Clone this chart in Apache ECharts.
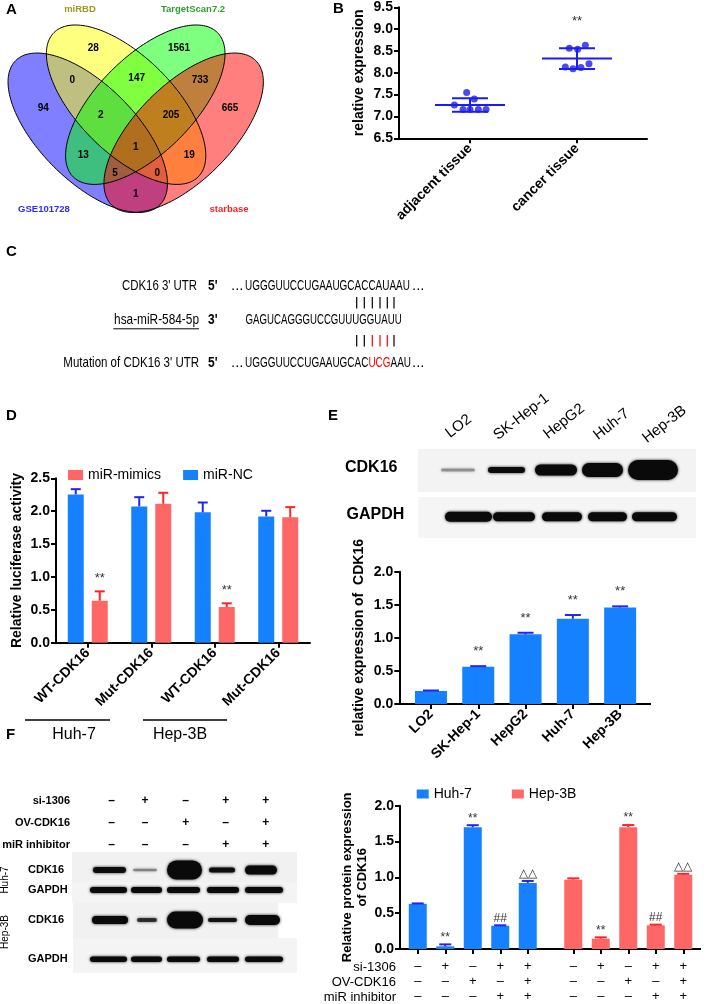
<!DOCTYPE html>
<html><head><meta charset="utf-8">
<script src="https://cdn.jsdelivr.net/npm/echarts@6/dist/echarts.min.js"></script>
<style>html,body{margin:0;padding:0;background:#fff}#c{width:709px;height:1004px}</style>
</head><body><div id="c"></div>
<script>
// ================= DATA =================
// A: Venn
const vennSets = ['GSE101728', 'miRBD', 'TargetScan7.2', 'starbase'];
const vennCounts = [94, 28, 1561, 665, 0, 147, 733, 2, 205, 13, 1, 19, 5, 0, 1];
// B: scatter (relative expression)
const bCats = ['adjacent tissue', 'cancer tissue'];
const bAdjacent = [7.26, 7.16, 7.55, 7.16, 7.40, 7.16, 7.16];
const bCancer = [8.13, 8.56, 8.09, 8.54, 8.12, 8.63, 8.21];
const bSig = ['', '**'];
// C: sequences
const cLabels = ["CDK16 3' UTR", 'hsa-miR-584-5p', "Mutation of CDK16 3' UTR"];
const cEnds = ["5'", "3'", "5'"];
const cUTR = 'UGGGUUCCUGAAUGCACCAUAAU';
const cMiR = 'GAGUCAGGGUCCGUUUGGUAUU';
const cMutPre = 'UGGGUUCCUGAAUGCAC', cMut = 'UCG', cMutPost = 'AAU';
// D: luciferase
const dCats = ['WT-CDK16', 'Mut-CDK16', 'WT-CDK16', 'Mut-CDK16'];
const dNC = [2.255, 2.073, 1.982, 1.921];
const dNCErr = [0.08, 0.14, 0.15, 0.085];
const dMimics = [0.638, 2.113, 0.543, 1.906];
const dMimicsErr = [0.143, 0.167, 0.056, 0.156];
const dMimicsSig = ['**', '', '**', ''];
const dGroups = ['Huh-7', 'Hep-3B'];
// E: cell lines
const eCats = ['LO2', 'SK-Hep-1', 'HepG2', 'Huh-7', 'Hep-3B'];
const eVals = [0.196, 0.564, 1.053, 1.289, 1.46];
const eErr = [0.008, 0.008, 0.024, 0.056, 0.016];
const eSig = ['', '**', '**', '**', '**'];
const eBandCDK16 = [3, 6, 11, 14, 20];      // band thickness (intensity proxy)
const eBandCDK16Op = [0.3, 0.95, 1, 1, 1];
const eBandGAPDH = [10, 9, 9, 9, 9];
// F: rescue
const fSi = ['–', '+', '–', '+', '+'];
const fOv = ['–', '–', '+', '–', '+'];
const fInh = ['–', '–', '–', '+', '+'];
const fRows = ['si-1306', 'OV-CDK16', 'miR inhibitor'];
const fHuh = [0.63, 0.0375, 1.70, 0.325, 0.922];
const fHuhErr = [0.006, 0.027, 0.028, 0.006, 0.028];
const fHep = [0.968, 0.144, 1.70, 0.33, 1.035];
const fHepErr = [0.018, 0.019, 0.03, 0.01, 0.014];
const fSig = ['', '**', '**', '##', '△△'];
const fBandHuhCDK16 = [6, 2.5, 19, 5, 9];
const fBandHuhCDK16Op = [0.95, 0.35, 1, 0.95, 1];
const fBandHepCDK16 = [8, 4, 17, 4, 10];
const fBandHepCDK16Op = [1, 0.7, 1, 0.9, 1];
const fBandGAPDH = [6, 6, 6, 6, 6];

// ================= LAYOUT / STYLE =================
const FONT = "'Liberation Sans', Arial, Helvetica, sans-serif";
const BLUE = '#1681ff', RED = '#ff6666', EBLUE = '#2424f0', ERED = '#ff2424';

const chart = echarts.init(document.getElementById('c'), null, {renderer: 'canvas', width: 709, height: 1004});

function mean(a) { return a.reduce((s, v) => s + v, 0) / a.length; }
function sd(a) { const m = mean(a); return Math.sqrt(a.reduce((s, v) => s + (v - m) * (v - m), 0) / (a.length - 1)); }

const axisLineS = {show: true, lineStyle: {color: '#000', width: 2}};
const tickS = {show: true, length: 5, lineStyle: {color: '#000', width: 2}};
const lblBold = {color: '#000', fontWeight: 'bold', fontSize: 14, fontFamily: FONT};

function yAx(gi, min, max, name, nameGap, extra) {
  return Object.assign({
    type: 'value', gridIndex: gi, min: min, max: max, interval: 0.5,
    axisLine: axisLineS, axisTick: tickS,
    axisLabel: Object.assign({margin: 6, formatter: v => v.toFixed(1)}, lblBold),
    splitLine: {show: false},
    name: name, nameLocation: 'middle', nameGap: nameGap,
    nameTextStyle: {color: '#000', fontWeight: 'bold', fontSize: 14, fontFamily: FONT, lineHeight: 16}
  }, extra || {});
}
function xCat(gi, data, extra) {
  return Object.assign({
    type: 'category', gridIndex: gi, data: data,
    axisLine: axisLineS, axisTick: Object.assign({alignWithLabel: true}, tickS),
    axisLabel: Object.assign({rotate: 45, margin: 8, interval: 0}, lblBold),
    splitLine: {show: false}
  }, extra || {});
}

function errBars(ax, vals, errs, marks, dx, color, capW, gap, fsz) {
  return {
    type: 'custom', xAxisIndex: ax, yAxisIndex: ax, z: 10, silent: true,
    data: vals.map((v, i) => [i, v, errs[i]]),
    renderItem(params, api) {
      const i = params.dataIndex, v = api.value(1), e = api.value(2);
      const top = api.coord([api.value(0), v]);
      const up = api.coord([api.value(0), v + e]);
      const x = top[0] + dx;
      const ch = [
        {type: 'line', shape: {x1: x, y1: top[1], x2: x, y2: up[1]}, style: {stroke: color, lineWidth: 2}},
        {type: 'line', shape: {x1: x - capW / 2, y1: up[1], x2: x + capW / 2, y2: up[1]}, style: {stroke: color, lineWidth: 2}}
      ];
      const m = marks && marks[i];
      if (m) ch.push({type: 'text', style: {text: m, x: x, y: up[1] - gap, align: 'center', verticalAlign: 'bottom',
        fill: '#333', font: fsz + 'px ' + FONT}});
      return {type: 'group', children: ch};
    }
  };
}

// ---------- graphics ----------
const G = [];
function txt(t, x, y, font, opt) {
  G.push(Object.assign({type: 'text', x: x, y: y, silent: true,
    style: Object.assign({text: t, font: font, fill: '#000', align: 'left', verticalAlign: 'middle'}, (opt && opt.style) || {})},
    (opt && opt.el) || {}));
}
function line(x1, y1, x2, y2, w, c) {
  G.push({type: 'line', silent: true, shape: {x1, y1, x2, y2}, style: {stroke: c || '#000', lineWidth: w || 1}});
}
// panel letters
[['A', 6, 10], ['B', 333, 9], ['C', 6, 252], ['D', 6, 415.5], ['E', 328, 415.5], ['F', 6, 735]]
  .forEach(l => txt(l[0], l[1], l[2], 'bold 15px ' + FONT));

// ----- A: Venn -----
function ellipsePts(cx, cy, a, b, deg) {
  const t = deg * Math.PI / 180, pts = [];
  for (let k = 0; k < 180; k++) {
    const s = 2 * Math.PI * k / 180;
    pts.push([cx + a * Math.cos(s) * Math.cos(t) - b * Math.sin(s) * Math.sin(t),
              cy + a * Math.cos(s) * Math.sin(t) + b * Math.sin(s) * Math.cos(t)]);
  }
  return pts;
}
const vennGeom = [[87.75, 132.75, 45], [126.1, 104.7, 45], [145.3, 104.7, -45], [183.65, 132.75, -45]];
const vennFill = ['rgba(0,0,255,0.5)', 'rgba(255,255,0,0.5)', 'rgba(0,255,0,0.5)', 'rgba(255,0,0,0.5)'];
vennGeom.forEach((g, i) => G.push({type: 'polygon', silent: true, shape: {points: ellipsePts(g[0], g[1], 102, 48, g[2])}, style: {fill: vennFill[i]}}));
vennGeom.forEach((g, i) => G.push({type: 'polygon', silent: true, shape: {points: ellipsePts(g[0], g[1], 102, 48, g[2])}, style: {fill: 'none', stroke: '#000', lineWidth: 1}}));
const vennLabelPos = [[43.3, 108.3], [93.3, 48.3], [179, 48.3], [230, 108.3], [72.3, 80], [136.7, 78.3], [200, 80], [100.7, 115.7],
  [171, 115.7], [83.3, 155], [135.7, 147.7], [189.3, 155], [115, 173.3], [157.3, 173.3], [135.7, 194]];
vennCounts.forEach((c, i) => txt(String(c), vennLabelPos[i][0], vennLabelPos[i][1], 'bold 10px ' + FONT, {style: {align: 'center'}}));
const vennSetPos = [[44, 209], [80, 9.5], [193, 9.5], [229, 209]];
const vennSetCol = ['#2b2bff', '#9a9a1e', '#2e9e2e', '#ff2020'];
vennSets.forEach((s, i) => txt(s, vennSetPos[i][0], vennSetPos[i][1], 'bold 9.5px ' + FONT, {style: {align: 'center', fill: vennSetCol[i]}}));

// ----- C: sequences (condensed by horizontal scaling) -----
const SEQF = '15px ' + FONT;
const cRowY = [285.7, 320, 363.3];
const cLabelRight = [197, 199, 199];
const cLabelScale = [0.76, 0.79, 0.766];
cLabels.forEach((l, i) => {
  txt(l, cLabelRight[i], cRowY[i], SEQF, {style: {align: 'right'}, el: {scaleX: cLabelScale[i]}});
  txt(cEnds[i], 208, cRowY[i], 'bold ' + SEQF, {el: {scaleX: 0.8}});
});
line(113.3, 328.8, 199, 328.8, 1);
[0, 2].forEach(r => { txt('...', 231, cRowY[r], SEQF); txt('...', 412, cRowY[r], SEQF); });
txt(cUTR, 245, cRowY[0], SEQF, {el: {scaleX: 0.664}});
txt(cMiR, 401.7, cRowY[1], SEQF, {style: {align: 'right'}, el: {scaleX: 0.644}});
txt(cMutPre + '{r|' + cMut + '}' + cMutPost, 245, cRowY[2], SEQF,
  {style: {rich: {r: {fill: '#ff0000', font: SEQF}}}, el: {scaleX: 0.664}});
const pairX = [356.7, 364.3, 372.3, 380, 387.3, 394];
const pairCol2 = ['#000', '#000', '#f00', '#f00', '#f00', '#000'];
pairX.forEach((x, i) => { line(x, 297, x, 308.5, 1.2); line(x, 335, x, 346.5, 1.2, pairCol2[i]); });

// ----- D: group annotations -----
line(25, 720, 110, 720, 1.5); line(143, 720, 227, 720, 1.5);
txt(dGroups[0], 74, 735, '16px ' + FONT, {style: {align: 'center'}});
txt(dGroups[1], 180, 735, '16px ' + FONT, {style: {align: 'center'}});

// ----- E: western blot -----
function band(x1, x2, y, h, op) {
  G.push({type: 'rect', silent: true, shape: {x: x1, y: y - h / 2, width: x2 - x1, height: h, r: h / 2},
    style: {fill: '#0a0a0a', opacity: op, shadowBlur: 3, shadowColor: 'rgba(0,0,0,0.9)'}});
}
function strip(x, y, w, h, c) { G.push({type: 'rect', silent: true, shape: {x, y, width: w, height: h}, style: {fill: c || '#f3f3f3'}}); }
strip(418, 449, 278, 43); strip(418, 497, 278, 41, '#f5f5f5');
const eLaneCDK16 = [[441, 475], [488, 525], [535, 577], [582, 623], [628, 678]];
const eLaneGAPDH = [[445, 492], [493, 535], [542, 582], [588, 627], [632, 677]];
eLaneCDK16.forEach((l, i) => band(l[0], l[1], 470, eBandCDK16[i], eBandCDK16Op[i]));
eLaneGAPDH.forEach((l, i) => band(l[0], l[1], 516.7, eBandGAPDH[i], 1));
txt('CDK16', 345, 468, 'bold 16px ' + FONT);
txt('GAPDH', 346.5, 515, 'bold 16px ' + FONT);
const eLaneLbl = [[452, 441], [500, 443], [550, 442], [600, 443], [649, 446]];
eCats.forEach((c, i) => txt(c, eLaneLbl[i][0], eLaneLbl[i][1], '15px ' + FONT,
  {style: {verticalAlign: 'bottom'}, el: {rotation: 38 * Math.PI / 180}}));

// ----- F: western blot -----
const fColX = [111.7, 145, 185.7, 225.7, 265.7];
const fRowY = [801, 822.7, 845];
[fSi, fOv, fInh].forEach((row, r) => {
  txt(fRows[r], 70, fRowY[r], 'bold 11px ' + FONT, {style: {align: 'right'}});
  row.forEach((s, c) => txt(s, fColX[c], fRowY[r], 'bold 12px ' + FONT, {style: {align: 'center'}}));
});
strip(72, 852, 225, 30, '#f1f1f1'); strip(72, 882, 225, 21, '#f4f4f4');
strip(73, 903, 205, 35, '#f1f1f1'); strip(73, 938, 224, 35, '#f4f4f4');
const fLaneA = [[93, 126], [133, 157], [167, 202], [209, 235], [245, 277]];
const fLaneG = [[90, 127], [131, 162], [167, 200], [207, 239], [245, 283]];
const fLaneB = [[92, 128], [137, 157], [167, 203], [208, 237], [245, 280]];
fLaneA.forEach((l, i) => band(l[0], l[1], 870, fBandHuhCDK16[i], fBandHuhCDK16Op[i]));
fLaneG.forEach((l, i) => band(l[0], l[1], 890, fBandGAPDH[i], 1));
fLaneB.forEach((l, i) => band(l[0], l[1], 920, fBandHepCDK16[i], fBandHepCDK16Op[i]));
fLaneG.forEach((l, i) => band(l[0], l[1], 959.3, fBandGAPDH[i] - 0.5, 1));
[['CDK16', 870], ['GAPDH', 890], ['CDK16', 920], ['GAPDH', 959.3]].forEach(r => txt(r[0], 28, r[1], 'bold 11px ' + FONT));
txt('Huh-7', 5, 880, '10px ' + FONT, {style: {align: 'center'}, el: {rotation: Math.PI / 2}});
txt('Hep-3B', 5, 932, '10px ' + FONT, {style: {align: 'center'}, el: {rotation: Math.PI / 2}});
// F table row labels (right chart)
fRows.forEach((r, i) => txt(r, 396, 967 + 15 * i, '13px ' + FONT, {style: {align: 'right'}}));

// axis-line extensions (GraphPad style axes spanning full frame)
line(399, 704, 408, 704, 2); line(643, 704, 651, 704, 2);
line(400, 949, 405, 949, 2); line(540.5, 949, 560.5, 949, 2); line(696, 949, 701, 949, 2);

// ================= OPTION =================
const bGroups = [bAdjacent, bCancer];
const bJitter = [[-0.146, -0.065, -0.031, 0, 0.040, 0.078, 0.150], [-0.109, -0.072, -0.037, 0.006, 0.037, 0.078, 0.112]];
const fCats = fSi.map((s, i) => s + '\n' + fOv[i] + '\n' + fInh[i]);

const option = {
  animation: false,
  backgroundColor: '#fff',
  grid: [
    {left: 399, top: 7.3, width: 248, height: 131},
    {left: 56, top: 478.3, width: 254, height: 164.4},
    {left: 407.3, top: 571.7, width: 236.5, height: 132.3},
    {left: 404, top: 805.7, width: 137.5, height: 143.3},
    {left: 559.5, top: 805.7, width: 137.5, height: 143.3}
  ],
  legend: [
    {left: 63, top: 463, itemWidth: 15, itemHeight: 10, itemGap: 22, icon: 'rect', selectedMode: false,
      data: ['miR-mimics', 'miR-NC'], textStyle: {fontSize: 14, fontFamily: FONT, color: '#000'}},
    {left: 411.7, top: 782, itemWidth: 12, itemHeight: 9, itemGap: 40, icon: 'rect', selectedMode: false,
      data: ['Huh-7', 'Hep-3B'], textStyle: {fontSize: 14, fontFamily: FONT, color: '#000'}}
  ],
  xAxis: [
    {type: 'value', gridIndex: 0, min: 1 - 71 / 107, max: 2 + 70 / 107,
      axisLine: axisLineS, axisTick: Object.assign({customValues: [1, 2]}, tickS),
      axisLabel: Object.assign({customValues: [1, 2], rotate: 45, margin: 8, formatter: v => bCats[Math.round(v) - 1] || ''}, lblBold),
      splitLine: {show: false}},
    xCat(1, dCats),
    xCat(2, eCats),
    xCat(3, fCats, {axisLabel: {rotate: 0, margin: 10, fontSize: 13, lineHeight: 15, color: '#000', fontFamily: FONT, interval: 0}}),
    xCat(4, fCats, {axisLabel: {rotate: 0, margin: 10, fontSize: 13, lineHeight: 15, color: '#000', fontFamily: FONT, interval: 0}})
  ],
  yAxis: [
    yAx(0, 6.5, 9.5, 'relative expression', 32),
    yAx(1, 0, 2.5, 'Relative luciferase activity', 30.5),
    yAx(2, 0, 2, 'relative expression of  CDK16', 32, {offset: 8}),
    yAx(3, 0, 2, 'Relative protein expression\nof CDK16', 29.5, {offset: 4,
      nameTextStyle: {color: '#000', fontWeight: 'bold', fontSize: 13, fontFamily: FONT, lineHeight: 15.7}}),
    yAx(4, 0, 2, '', 0, {show: false})
  ],
  series: [
    // B points
    ...bGroups.map((g, gi) => ({
      type: 'scatter', xAxisIndex: 0, yAxisIndex: 0, symbolSize: 7, itemStyle: {color: '#1e1ee6'}, silent: true,
      data: g.map((v, i) => [gi + 1 + bJitter[gi][i], v])
    })),
    // B mean ± SD
    {type: 'custom', xAxisIndex: 0, yAxisIndex: 0, z: 10, silent: true,
      data: bGroups.map((g, gi) => [gi + 1, mean(g), sd(g)]),
      renderItem(params, api) {
        const x = api.value(0), m = api.value(1), s = api.value(2);
        const c = api.coord([x, m]), up = api.coord([x, m + s]), lo = api.coord([x, m - s]);
        const st = {stroke: '#1a1aff', lineWidth: 2};
        const ch = [
          {type: 'line', shape: {x1: c[0] - 35, y1: c[1], x2: c[0] + 35, y2: c[1]}, style: st},
          {type: 'line', shape: {x1: c[0], y1: up[1], x2: c[0], y2: lo[1]}, style: st},
          {type: 'line', shape: {x1: c[0] - 18, y1: up[1], x2: c[0] + 18, y2: up[1]}, style: st},
          {type: 'line', shape: {x1: c[0] - 18, y1: lo[1], x2: c[0] + 18, y2: lo[1]}, style: st}
        ];
        const sig = bSig[params.dataIndex];
        if (sig) ch.push({type: 'text', style: {text: sig, x: c[0], y: up[1] - 20, align: 'center', verticalAlign: 'bottom', fill: '#333', font: '13px ' + FONT}});
        return {type: 'group', children: ch};
      }},
    // D
    {type: 'bar', name: 'miR-NC', xAxisIndex: 1, yAxisIndex: 1, data: dNC, barWidth: 16, barGap: '50%', itemStyle: {color: BLUE}, silent: true},
    {type: 'bar', name: 'miR-mimics', xAxisIndex: 1, yAxisIndex: 1, data: dMimics, barWidth: 16, barGap: '50%', itemStyle: {color: RED}, silent: true},
    errBars(1, dNC, dNCErr, null, -12, EBLUE, 10, 6, 13),
    errBars(1, dMimics, dMimicsErr, dMimicsSig, 12, ERED, 10, 6, 13),
    // E
    {type: 'bar', name: 'expr', xAxisIndex: 2, yAxisIndex: 2, data: eVals, barWidth: 32, itemStyle: {color: BLUE}, silent: true},
    errBars(2, eVals, eErr, eSig, 0, EBLUE, 16, 8, 13),
    // F
    {type: 'bar', name: 'Huh-7', xAxisIndex: 3, yAxisIndex: 3, data: fHuh, barWidth: 18, itemStyle: {color: BLUE}, silent: true},
    {type: 'bar', name: 'Hep-3B', xAxisIndex: 4, yAxisIndex: 4, data: fHep, barWidth: 18, itemStyle: {color: RED}, silent: true},
    errBars(3, fHuh, fHuhErr, fSig, 0, EBLUE, 12, 1, 12),
    errBars(4, fHep, fHepErr, fSig, 0, ERED, 12, 1, 12)
  ],
  graphic: G
};
chart.setOption(option);
</script>
</body></html>
